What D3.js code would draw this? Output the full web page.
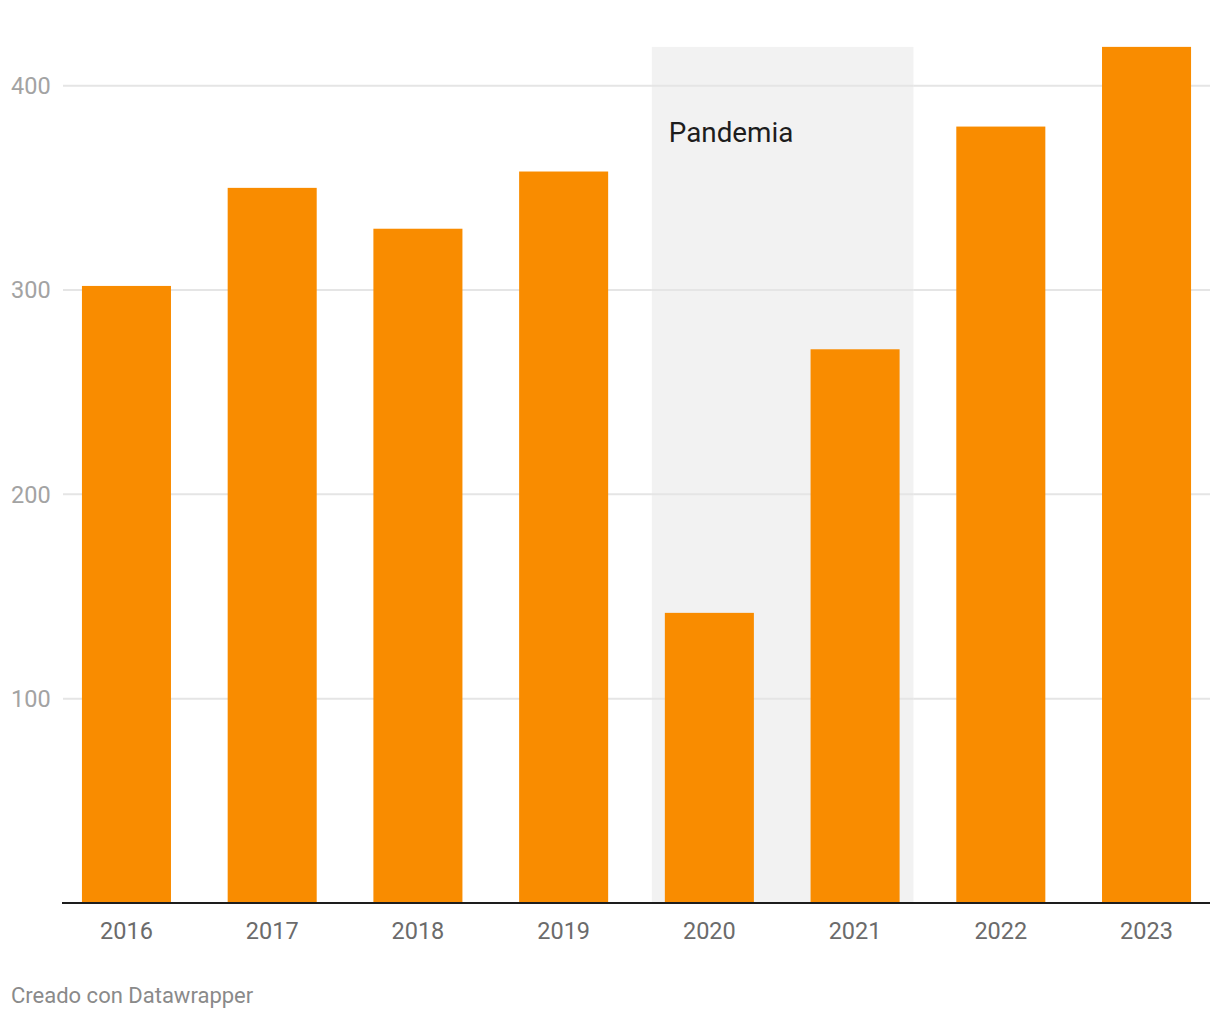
<!DOCTYPE html>
<html>
<head>
<meta charset="utf-8">
<script src="https://cdn.jsdelivr.net/npm/d3@7"></script>
<style>
  html, body { margin: 0; padding: 0; background: #fff; }
  svg { display: block; font-family: Roboto, "Noto Sans", sans-serif; }
</style>
</head>
<body>
<svg id="chart" width="1220" height="1020"></svg>
<script>
const years = ["2016", "2017", "2018", "2019", "2020", "2021", "2022", "2023"];
const values = [302, 350, 330, 358, 142, 271, 380, 419];
const yTicks = [100, 200, 300, 400];
const highlightRange = ["2020", "2021"];
const highlightLabel = "Pandemia";
const footerText = "Creado con Datawrapper";

const svg = d3.select("#chart");
const plotLeft = 63, plotRight = 1210, plotBottom = 903;

const x = d3.scaleBand().domain(years).range([plotLeft, plotRight]).paddingInner(0.389).paddingOuter(0.13);
const y = d3.scaleLinear().domain([0, 400]).range([plotBottom, 85.7]);

// gridlines
svg.append("g").selectAll("line").data(yTicks).join("line")
  .attr("x1", plotLeft).attr("x2", plotRight)
  .attr("y1", d => y(d)).attr("y2", d => y(d))
  .attr("stroke", "#e5e5e5").attr("stroke-width", 2);

// highlight band
const gap = x.step() - x.bandwidth();
const hx0 = x(highlightRange[0]) - gap * 0.23;
const hx1 = x(highlightRange[1]) + x.bandwidth() + gap * 0.245;
svg.append("rect")
  .attr("x", hx0).attr("y", y(d3.max(values)))
  .attr("width", hx1 - hx0).attr("height", plotBottom - y(d3.max(values)))
  .attr("fill", "#f2f2f2");

// gridlines visible over the shaded band
svg.append("g").selectAll("line").data(yTicks).join("line")
  .attr("x1", hx0).attr("x2", hx1)
  .attr("y1", d => y(d)).attr("y2", d => y(d))
  .attr("stroke", "#e5e5e5").attr("stroke-width", 2);

svg.append("text")
  .attr("x", x(highlightRange[0]) + 4).attr("y", 141.5)
  .attr("font-size", 27.8).attr("fill", "#1d1d1d")
  .text(highlightLabel);

// y labels
svg.append("g").selectAll("text").data(yTicks).join("text")
  .attr("x", 11).attr("y", d => y(d))
  .attr("dy", "0.35em")
  .attr("font-size", 23.5).attr("fill", "#a3a3a3")
  .text(d => d);

// bars
svg.append("g").selectAll("rect").data(values).join("rect")
  .attr("x", (d, i) => x(years[i]))
  .attr("y", d => y(d))
  .attr("width", x.bandwidth())
  .attr("height", d => plotBottom - y(d))
  .attr("fill", "#f98c00");

// x axis
const xAxis = svg.append("g").attr("transform", `translate(0,${plotBottom})`)
  .call(d3.axisBottom(x).tickSize(0).tickPadding(19));
xAxis.select(".domain").attr("stroke", "#1d1d1d").attr("stroke-width", 2)
  .attr("d", `M${plotLeft - 1},0H${plotRight}`);
xAxis.selectAll("text")
  .attr("font-size", 23.5).attr("fill", "#6b6b6b")
  .attr("font-family", "Roboto, 'Noto Sans', sans-serif");

// footer
svg.append("text")
  .attr("x", 11).attr("y", 1003)
  .attr("font-size", 22).attr("fill", "#8a8a8a")
  .text(footerText);
</script>
</body>
</html>
